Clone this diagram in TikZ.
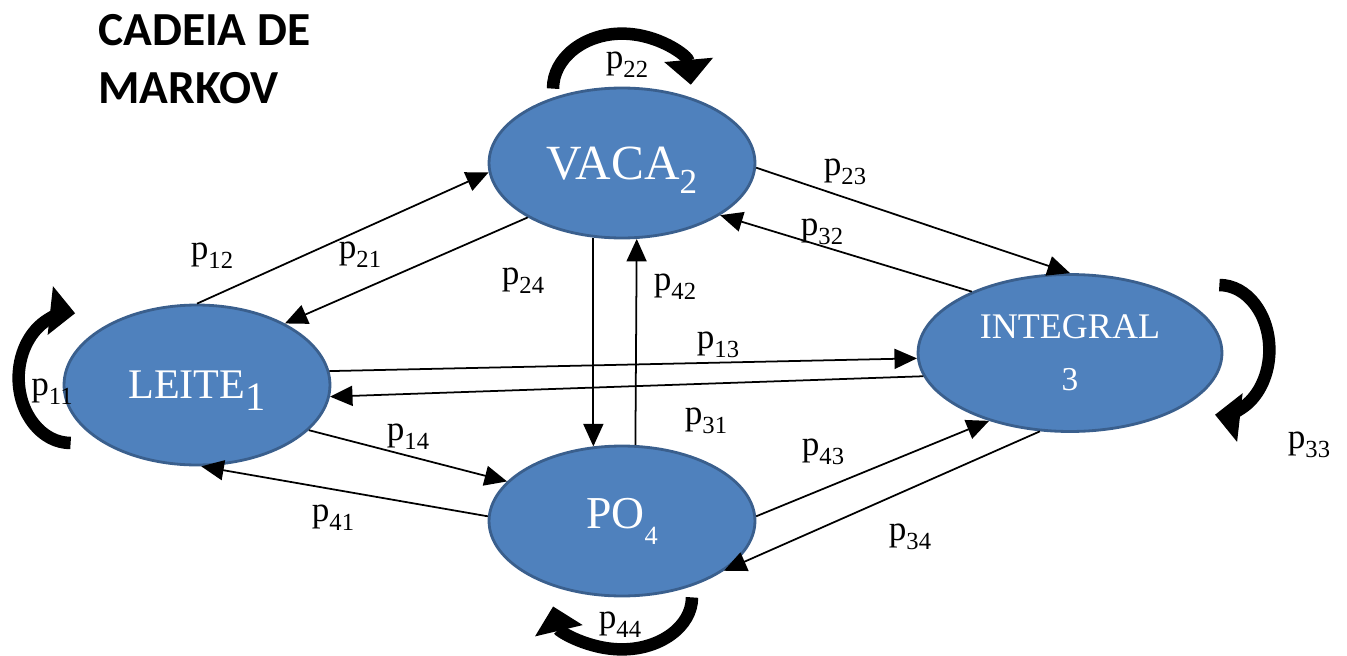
\documentclass[tikz,border=0pt]{standalone}
\usepackage{fontspec}
\setmainfont{Liberation Serif}
\newfontfamily\titlefont{Carlito}
\usetikzlibrary{arrows.meta,calc,shapes.geometric}
\definecolor{statefill}{HTML}{4F81BD}
\definecolor{stateline}{HTML}{3A5F8D}
\newcommand{\plab}[1]{p\raisebox{-5pt}{\fontsize{14}{14}\selectfont #1}}
\tikzset{
	state/.style={ellipse, draw=stateline, line width=1.6pt, fill=statefill, text=white, inner sep=0pt},
	edge/.style={line width=1pt, -{Triangle[length=0.45cm,width=0.4cm]}},
	selfloop/.style={line width=0.25cm, -{Triangle[length=0.5cm,width=0.95cm]}},
	lab/.style={font=\fontsize{20}{24}\selectfont, inner sep=0pt}
}

\begin{document}
\begin{tikzpicture}[x=0.02cm, y=-0.02cm]
		%%%%% START %%%%%
		\useasboundingbox (0,0) rectangle (1347,656);
		
		\node[anchor=north west, inner sep=0pt, align=left, font=\titlefont\bfseries\fontsize{27}{33}\selectfont] (title) at (98,14) {CADEIA DE\\MARKOV};
		
		%%%%% STATES %%%%%
		\node[state, text depth=0pt, minimum width=5.32cm, minimum height=3cm] (vaca) at (622,163) {\fontsize{28}{30}\selectfont VACA\raisebox{-8pt}{\fontsize{20}{20}\selectfont 2}};
		\node[state, text depth=0pt, minimum width=5.32cm, minimum height=3.2cm] (leite) at (197,385) {\fontsize{24}{28}\selectfont LEITE\raisebox{-6.5pt}{\fontsize{23}{23}\selectfont 1}};
		\node[state, align=center, font=\fontsize{20.5}{29.5}\selectfont, minimum width=6.08cm, minimum height=3.14cm] (integral) at (1070,353) {INTEGRAL\\{\fontsize{19}{29.5}\selectfont 3}};
		\node[state, text depth=0pt, minimum width=5.32cm, minimum height=3cm] (po) at (622,521) {\raisebox{9pt}{\fontsize{26}{30}\selectfont PO\raisebox{-9.5pt}{\fontsize{15}{15}\selectfont 4}}};
		
		%%%%% TRANSITIONS %%%%%
		\draw[edge] (leite.90) -- (vaca.184);
		\draw[edge] (vaca.210) -- (leite.35);
		\draw[edge] (vaca.-2) -- (integral.90);
		\draw[edge] (integral.148) -- (vaca.-28);
		\draw[edge] (vaca.249) -- (po.111);
		\draw[edge] (po.80) -- (vaca.281);
		\draw[edge] (leite.6) -- (integral.182);
		\draw[edge] (integral.189) -- (leite.-5);
		\draw[edge] (leite.-22) -- (po.161);
		\draw[edge] (po.178) -- (leite.-87);
		\draw[edge] (po.2) -- (integral.220);
		\draw[edge] (integral.249) -- (po.-26);
		
		%%%%% SELF LOOPS %%%%%
		\draw[selfloop] ($(vaca.north)+(-69,2)$) arc[start angle=180, end angle=4, x radius=1.38cm, y radius=1.1cm];
		\draw[selfloop] ($(leite.west)+(8,58)$) arc[start angle=270, end angle=85, x radius=1.04cm, y radius=1.3cm];
		\draw[selfloop] ($(integral.east)+(-4,-68)$) arc[start angle=90, end angle=-95, x radius=1cm, y radius=1.3cm];
		\draw[selfloop] ($(po.south)+(70,0)$) arc[start angle=0, end angle=-170, x radius=1.4cm, y radius=1.04cm];
		
		%%%%% LABELS %%%%%
		\node[lab] (l11) at (52,392) {\plab{11}};
		\node[lab] (l22) at (627,65) {\plab{22}};
		\node[lab] (l33) at (1309,445) {\plab{33}};
		\node[lab] (l44) at (620,625) {\plab{44}};
		\node[lab] (l12) at (212,256) {\plab{12}};
		\node[lab] (l21) at (360,255) {\plab{21}};
		\node[lab] (l23) at (845,172) {\plab{23}};
		\node[lab] (l32) at (822,232) {\plab{32}};
		\node[lab] (l24) at (523,281) {\plab{24}};
		\node[lab] (l42) at (675,287) {\plab{42}};
		\node[lab] (l13) at (718,345) {\plab{13}};
		\node[lab] (l31) at (706,421) {\plab{31}};
		\node[lab] (l14) at (408,437) {\plab{14}};
		\node[lab] (l41) at (333,518) {\plab{41}};
		\node[lab] (l43) at (823,452) {\plab{43}};
		\node[lab] (l34) at (910,537) {\plab{34}};
		
		%%%%% END %%%%%
\end{tikzpicture}
\end{document}
